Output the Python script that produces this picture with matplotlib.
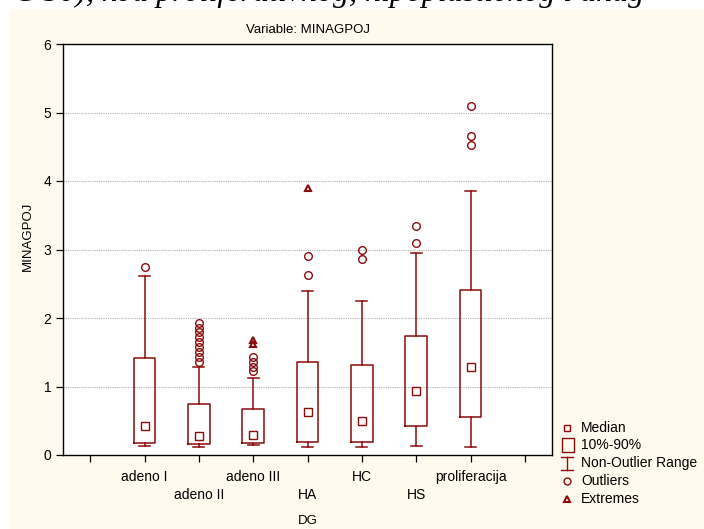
import matplotlib
matplotlib.use("Agg")
import matplotlib.pyplot as plt
from matplotlib.lines import Line2D
from matplotlib.patches import Rectangle

plt.rcParams['font.family'] = ['Liberation Sans', 'DejaVu Sans']

# data
groups = ['adeno I', 'adeno II', 'adeno III', 'HA', 'HC', 'HS', 'proliferacija']
median = [0.43, 0.28, 0.29, 0.63, 0.49, 0.93, 1.28]
p10 = [0.175, 0.16, 0.18, 0.19, 0.185, 0.42, 0.55]
p90 = [1.41, 0.75, 0.67, 1.36, 1.31, 1.74, 2.41]
whis_lo = [0.13, 0.12, 0.14, 0.12, 0.12, 0.13, 0.12]
whis_hi = [2.62, 1.29, 1.13, 2.40, 2.25, 2.95, 3.85]
outliers = [[2.75],
            [1.36, 1.43, 1.51, 1.58, 1.65, 1.72, 1.80, 1.86, 1.92],
            [1.22, 1.29, 1.36, 1.43],
            [2.63, 2.905],
            [2.86, 2.99],
            [3.10, 3.35],
            [4.52, 4.65, 5.10]]
extremes = [[], [], [1.62, 1.68], [3.90], [], [], []]

red = '#8B0A0A'
cream = '#FFF9EE'
W, H = 704, 529

fig = plt.figure(figsize=(W / 100, H / 100), dpi=100)
fig.patch.set_facecolor('white')
fig.patches.append(Rectangle((10 / W, 0), 1, 1 - 9 / H, transform=fig.transFigure,
                             facecolor=cream, edgecolor='none', zorder=-10))
# cut-off line of the document above the picture
fig.text(0.02, 1 - 1 / H, 'C 30), kod proliferativnog, hipoplastičnog i anag',
         family=['Liberation Serif', 'DejaVu Serif'], style='italic', fontsize=23,
         va='baseline', ha='left', zorder=5)

ax = fig.add_axes([63 / W, 1 - 455 / H, (552 - 63) / W, (455 - 44) / H])
ax.set_facecolor('white')

pos = list(range(1, len(groups) + 1))
stats = []
for i in range(len(groups)):
    stats.append(dict(med=median[i], mean=median[i], q1=p10[i], q3=p90[i],
                      whislo=whis_lo[i], whishi=whis_hi[i], fliers=outliers[i]))

ax.bxp(stats, positions=pos, widths=0.4, capwidths=0.2, showmeans=True,
       boxprops=dict(color=red, linewidth=1.1),
       whiskerprops=dict(color=red, linewidth=1.1),
       capprops=dict(color=red, linewidth=1.1),
       medianprops=dict(linestyle='none'),
       meanprops=dict(marker='s', markersize=6, markerfacecolor='white',
                      markeredgecolor=red, markeredgewidth=1.0),
       flierprops=dict(marker='o', markersize=5.5, markerfacecolor='none',
                       markeredgecolor=red, markeredgewidth=1.0))
for i, ext in enumerate(extremes):
    if ext:
        ax.plot([pos[i]] * len(ext), ext, linestyle='none', marker='^', markersize=5,
                markerfacecolor='none', markeredgecolor=red, markeredgewidth=1.5)

ax.set_xlim(-0.5, 8.5)
ax.set_ylim(0, 6)
ax.set_yticks(range(0, 7))
ax.set_xticks(range(0, 9))
labels = [''] + [g if i % 2 == 0 else '\n' + g for i, g in enumerate(groups)] + ['']
ax.set_xticklabels(labels)
for lab in ax.get_xticklabels():
    lab.set_linespacing(1.35)
ax.tick_params(axis='both', labelsize=10, direction='out', length=5, width=0.9, colors='black')
ax.tick_params(axis='x', pad=6)
for y in range(1, 6):
    ax.axhline(y, color='#b0b0b0', linewidth=0.8, linestyle=(0, (1, 1)), zorder=0)
for s in ax.spines.values():
    s.set_linewidth(1.0)

ax.set_title('Variable: MINAGPOJ', fontsize=9.5, pad=8)
ax.set_ylabel('MINAGPOJ', fontsize=9.5, labelpad=5)
ax.yaxis.set_label_coords(-0.06, 0.533)
ax.set_xlabel('DG', fontsize=9.5, labelpad=9)

# legend drawn by hand at the right
def fx(x):
    return x / W

def fy(y):
    return 1 - y / H

mx = 567
fig.add_artist(Line2D([fx(mx)], [fy(428)], marker='s', markersize=5, markerfacecolor='none',
                      markeredgecolor=red, markeredgewidth=1.0, transform=fig.transFigure))
fig.add_artist(Rectangle((fx(562), fy(452)), 12 / W, 14 / H, facecolor='none',
                         edgecolor=red, linewidth=1.0, transform=fig.transFigure))
fig.add_artist(Line2D([fx(mx), fx(mx)], [fy(457), fy(470)], color=red, linewidth=1.0,
                      transform=fig.transFigure))
for yy in (457, 470):
    fig.add_artist(Line2D([fx(mx - 6), fx(mx + 6)], [fy(yy), fy(yy)], color=red,
                          linewidth=1.0, transform=fig.transFigure))
fig.add_artist(Line2D([fx(mx)], [fy(481)], marker='o', markersize=5, markerfacecolor='none',
                      markeredgecolor=red, markeredgewidth=1.0, transform=fig.transFigure))
fig.add_artist(Line2D([fx(mx)], [fy(499)], marker='^', markersize=5, markerfacecolor='none',
                      markeredgecolor=red, markeredgewidth=1.5, transform=fig.transFigure))
for txt, yy in zip(['Median', '10%-90%', 'Non-Outlier Range', 'Outliers', 'Extremes'],
                   [428, 445, 463, 481, 499]):
    fig.text(fx(581), fy(yy), txt, fontsize=10, va='center', ha='left')

fig.savefig('out.png', dpi=100, facecolor=fig.get_facecolor())
